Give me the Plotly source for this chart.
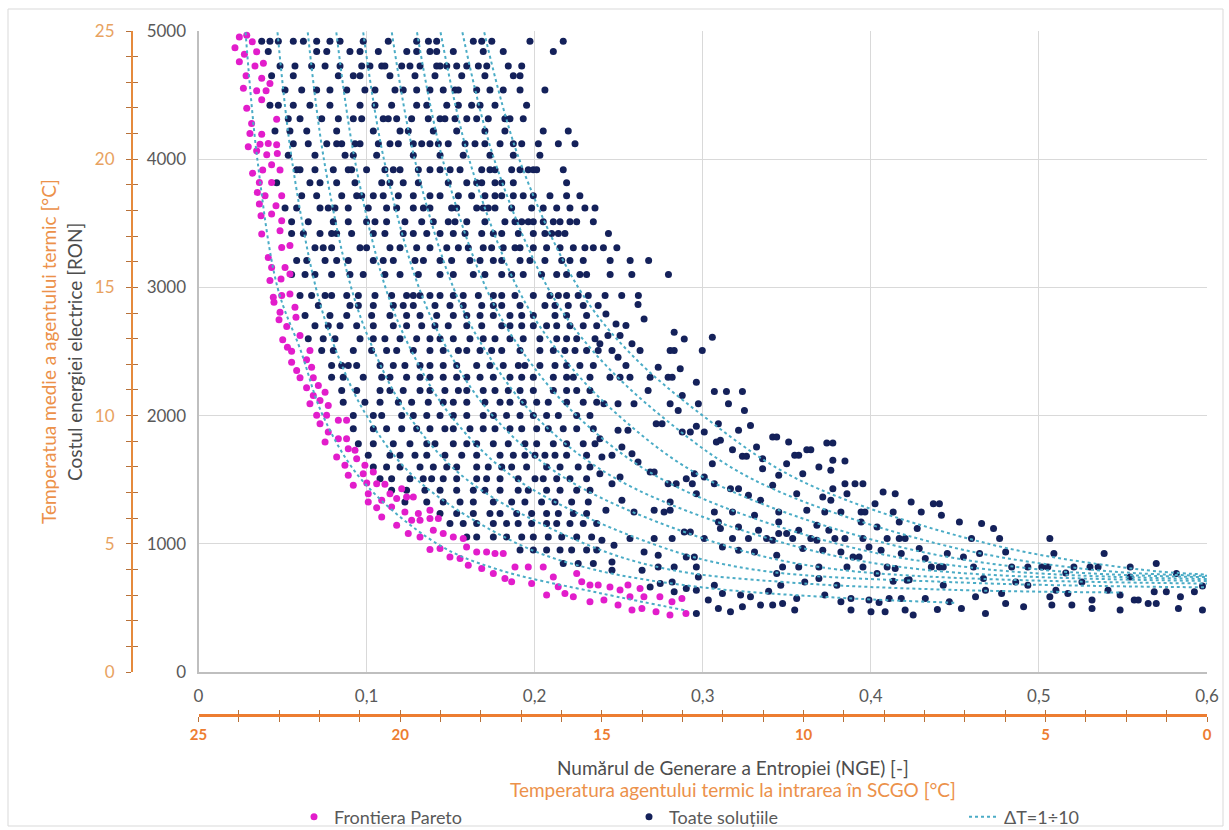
import plotly.graph_objects as go

# ---------------------------------------------------------------- data
# All solutions, read row by row (cost level [RON] -> NGE values)
ROW_COST = [4920, 4840, 4727, 4650, 4540, 4420, 4315, 4220, 4120, 4030,
            3917, 3816, 3715, 3620, 3512, 3420, 3310, 3210, 3100, 2936,
            2858, 2780, 2700, 2600, 2508, 2390, 2300, 2196, 2105, 2001,
            1898, 1781, 1690, 1599, 1508, 1417, 1326, 1236, 1158, 1054,
            951, 847]
ROW_NGE = [
    [0.0376, 0.0425, 0.0475, 0.0564, 0.0624, 0.0703, 0.0782, 0.0842, 0.0980, 0.1129, 0.1298, 0.1368, 0.1417, 0.1635, 0.1685, 0.1745, 0.1972, 0.2170],
    [0.0415, 0.0703, 0.0763, 0.0901, 0.0961, 0.1070, 0.1239, 0.1298, 0.1377, 0.1417, 0.1516, 0.1694, 0.1813, 0.2111],
    [0.0485, 0.0574, 0.0673, 0.0753, 0.0842, 0.0971, 0.1020, 0.1090, 0.1109, 0.1209, 0.1258, 0.1318, 0.1417, 0.1437, 0.1477, 0.1536, 0.1596, 0.1665, 0.1715, 0.1843, 0.1923],
    [0.0435, 0.0564, 0.0832, 0.0921, 0.0961, 0.1139, 0.1288, 0.1407, 0.1566, 0.1704, 0.1873, 0.1913],
    [0.0515, 0.0614, 0.0703, 0.0782, 0.0882, 0.0990, 0.1050, 0.1169, 0.1218, 0.1298, 0.1377, 0.1456, 0.1526, 0.1546, 0.1655, 0.1734, 0.1813, 0.1913, 0.2061],
    [0.0425, 0.0475, 0.0564, 0.0663, 0.0782, 0.0961, 0.1050, 0.1149, 0.1298, 0.1358, 0.1477, 0.1546, 0.1625, 0.1675, 0.1764, 0.1952],
    [0.0534, 0.0604, 0.0733, 0.0832, 0.0921, 0.0971, 0.1099, 0.1129, 0.1179, 0.1268, 0.1367, 0.1437, 0.1466, 0.1526, 0.1596, 0.1655, 0.1724, 0.1823, 0.1853, 0.1932],
    [0.0455, 0.0544, 0.0644, 0.0822, 0.1040, 0.1199, 0.1248, 0.1397, 0.1536, 0.1704, 0.1823, 0.2051, 0.2200],
    [0.0564, 0.0653, 0.0763, 0.0822, 0.0852, 0.0931, 0.0961, 0.1070, 0.1139, 0.1189, 0.1278, 0.1328, 0.1377, 0.1427, 0.1486, 0.1586, 0.1645, 0.1704, 0.1794, 0.1873, 0.1923, 0.2022, 0.2141, 0.2240],
    [0.0534, 0.0693, 0.0872, 0.0921, 0.1060, 0.1278, 0.1437, 0.1575, 0.1734, 0.1873, 0.2031],
    [0.0584, 0.0604, 0.0693, 0.0802, 0.0891, 0.0911, 0.1000, 0.1109, 0.1159, 0.1199, 0.1308, 0.1377, 0.1437, 0.1497, 0.1556, 0.1685, 0.1734, 0.1764, 0.1863, 0.1913, 0.1962, 0.1992, 0.2012, 0.2170],
    [0.0465, 0.0663, 0.0723, 0.0822, 0.0931, 0.1090, 0.1139, 0.1218, 0.1308, 0.1486, 0.1596, 0.1655, 0.1685, 0.1764, 0.1804, 0.1873, 0.2190],
    [0.0614, 0.0703, 0.0852, 0.0941, 0.0971, 0.1040, 0.1099, 0.1189, 0.1278, 0.1377, 0.1437, 0.1546, 0.1625, 0.1704, 0.1764, 0.1804, 0.1873, 0.1932, 0.1992, 0.2091, 0.2190, 0.2269],
    [0.0515, 0.0584, 0.0723, 0.0772, 0.0812, 0.0891, 0.1010, 0.1119, 0.1179, 0.1278, 0.1338, 0.1377, 0.1506, 0.1536, 0.1655, 0.1694, 0.1724, 0.1764, 0.1863, 0.1982, 0.2051, 0.2131, 0.2210, 0.2299, 0.2359],
    [0.0554, 0.0653, 0.0802, 0.0891, 0.1000, 0.1050, 0.1119, 0.1228, 0.1328, 0.1397, 0.1486, 0.1526, 0.1596, 0.1704, 0.1823, 0.1883, 0.1923, 0.1962, 0.1992, 0.2051, 0.2111, 0.2151, 0.2210, 0.2250, 0.2349],
    [0.0554, 0.0624, 0.0723, 0.0792, 0.0822, 0.0911, 0.1040, 0.1109, 0.1218, 0.1278, 0.1358, 0.1437, 0.1516, 0.1586, 0.1685, 0.1754, 0.1804, 0.1903, 0.1992, 0.2061, 0.2101, 0.2141, 0.2180, 0.2439],
    [0.0693, 0.0742, 0.0792, 0.0961, 0.1000, 0.1139, 0.1199, 0.1298, 0.1377, 0.1477, 0.1546, 0.1605, 0.1694, 0.1744, 0.1813, 0.1883, 0.1913, 0.1992, 0.2071, 0.2151, 0.2230, 0.2299, 0.2349, 0.2409, 0.2489],
    [0.0584, 0.0644, 0.0753, 0.0822, 0.0891, 0.1040, 0.1099, 0.1159, 0.1288, 0.1338, 0.1437, 0.1506, 0.1615, 0.1675, 0.1754, 0.1804, 0.1913, 0.1972, 0.2061, 0.2161, 0.2210, 0.2289, 0.2449, 0.2568, 0.2678],
    [0.0554, 0.0634, 0.0693, 0.0792, 0.0901, 0.0980, 0.1109, 0.1199, 0.1308, 0.1437, 0.1516, 0.1635, 0.1704, 0.1804, 0.1863, 0.1932, 0.2041, 0.2131, 0.2190, 0.2269, 0.2309, 0.2449, 0.2578, 0.2796],
    [0.0604, 0.0673, 0.0753, 0.0792, 0.0882, 0.0951, 0.1050, 0.1149, 0.1238, 0.1278, 0.1318, 0.1377, 0.1437, 0.1516, 0.1575, 0.1665, 0.1754, 0.1804, 0.1883, 0.1992, 0.2091, 0.2141, 0.2190, 0.2259, 0.2319, 0.2419, 0.2518, 0.2617],
    [0.0713, 0.0901, 0.0951, 0.1040, 0.1159, 0.1218, 0.1278, 0.1407, 0.1496, 0.1575, 0.1685, 0.1754, 0.1804, 0.1913, 0.2061, 0.2121, 0.2200, 0.2289, 0.2378],
    [0.0634, 0.0782, 0.0882, 0.1030, 0.1139, 0.1238, 0.1318, 0.1417, 0.1516, 0.1596, 0.1675, 0.1754, 0.1853, 0.1923, 0.1992, 0.2121, 0.2190, 0.2309],
    [0.0693, 0.0772, 0.0842, 0.0941, 0.1040, 0.1159, 0.1238, 0.1328, 0.1407, 0.1486, 0.1596, 0.1685, 0.1804, 0.1853, 0.1923, 0.1992, 0.2071, 0.2131, 0.2210, 0.2289, 0.2369],
    [0.0653, 0.0742, 0.0812, 0.0961, 0.1040, 0.1109, 0.1199, 0.1298, 0.1377, 0.1437, 0.1516, 0.1615, 0.1694, 0.1764, 0.1853, 0.1932, 0.2031, 0.2131, 0.2190, 0.2250, 0.2359],
    [0.0733, 0.0802, 0.0921, 0.1030, 0.1119, 0.1179, 0.1278, 0.1377, 0.1456, 0.1546, 0.1596, 0.1675, 0.1744, 0.1804, 0.1913, 0.2031, 0.2111, 0.2180, 0.2240, 0.2309, 0.2378],
    [0.0792, 0.0852, 0.0891, 0.0941, 0.1080, 0.1159, 0.1228, 0.1318, 0.1377, 0.1456, 0.1536, 0.1655, 0.1734, 0.1813, 0.1903, 0.1942, 0.2031, 0.2121, 0.2190, 0.2269, 0.2349],
    [0.0792, 0.0861, 0.0980, 0.1090, 0.1139, 0.1238, 0.1318, 0.1377, 0.1456, 0.1536, 0.1596, 0.1675, 0.1754, 0.1853, 0.1923, 0.1992, 0.2111, 0.2190, 0.2230, 0.2329],
    [0.0852, 0.0941, 0.1080, 0.1139, 0.1218, 0.1318, 0.1377, 0.1466, 0.1546, 0.1596, 0.1694, 0.1764, 0.1843, 0.1913, 0.1992, 0.2111, 0.2190, 0.2250, 0.2329],
    [0.0861, 0.0990, 0.1080, 0.1189, 0.1268, 0.1367, 0.1456, 0.1516, 0.1596, 0.1704, 0.1794, 0.1853, 0.1932, 0.2012, 0.2081, 0.2190, 0.2289, 0.2369],
    [0.0921, 0.1040, 0.1090, 0.1209, 0.1278, 0.1358, 0.1437, 0.1516, 0.1596, 0.1694, 0.1754, 0.1833, 0.1913, 0.1992, 0.2071, 0.2141, 0.2250, 0.2329],
    [0.0921, 0.1040, 0.1119, 0.1209, 0.1298, 0.1377, 0.1466, 0.1516, 0.1615, 0.1694, 0.1764, 0.1853, 0.1923, 0.2012, 0.2081, 0.2170, 0.2250, 0.2349],
    [0.0951, 0.1040, 0.1159, 0.1258, 0.1358, 0.1407, 0.1516, 0.1596, 0.1655, 0.1754, 0.1843, 0.1942, 0.2012, 0.2111, 0.2190, 0.2289, 0.2359],
    [0.1010, 0.1139, 0.1199, 0.1288, 0.1358, 0.1466, 0.1566, 0.1655, 0.1794, 0.1873, 0.1942, 0.2002, 0.2061, 0.2121, 0.2190, 0.2309],
    [0.1040, 0.1119, 0.1199, 0.1318, 0.1397, 0.1477, 0.1536, 0.1655, 0.1724, 0.1804, 0.1863, 0.1952, 0.2071, 0.2151, 0.2259, 0.2329],
    [0.1080, 0.1149, 0.1258, 0.1337, 0.1387, 0.1456, 0.1536, 0.1655, 0.1714, 0.1794, 0.1902, 0.2002, 0.2051, 0.2131, 0.2210, 0.2309],
    [0.1149, 0.1238, 0.1347, 0.1437, 0.1536, 0.1635, 0.1704, 0.1794, 0.1902, 0.1962, 0.2071, 0.2151, 0.2250, 0.2329],
    [0.1228, 0.1358, 0.1456, 0.1556, 0.1635, 0.1754, 0.1863, 0.1942, 0.2041, 0.2121, 0.2220, 0.2319],
    [0.1437, 0.1536, 0.1635, 0.1734, 0.1794, 0.1893, 0.1982, 0.2071, 0.2141, 0.2230, 0.2309],
    [0.1496, 0.1575, 0.1655, 0.1754, 0.1833, 0.1902, 0.1982, 0.2071, 0.2131, 0.2210, 0.2289, 0.2369],
    [0.1596, 0.1655, 0.1754, 0.1833, 0.1923, 0.1992, 0.2081, 0.2161, 0.2250, 0.2339],
    [0.1913, 0.1992, 0.2071, 0.2151, 0.2220, 0.2309, 0.2369],
    [0.2170, 0.2259, 0.2349],
]

# All solutions, lower-right region (NGE > 0.24, cost < 2900 RON)
LOW_NGE = [
    0.2424, 0.2484, 0.2543, 0.2615, 0.2651, 0.2830, 0.2890, 0.2436, 0.2508, 0.2388,
    0.2579, 0.2627, 0.2806, 0.2830, 0.2735, 0.2866, 0.2997, 0.3057, 0.2460, 0.2496,
    0.2543, 0.2448, 0.2508, 0.2567, 0.2687, 0.2794, 0.2818, 0.2962, 0.2675, 0.2878,
    0.3069, 0.3141, 0.3236, 0.3153, 0.3248, 0.2496, 0.2412, 0.2591, 0.2854, 0.2806,
    0.2974, 0.2723, 0.2758, 0.2388, 0.2496, 0.2555, 0.2878, 0.2926, 0.2962, 0.3009,
    0.3093, 0.3213, 0.3284, 0.3416, 0.3440, 0.3511, 0.3619, 0.3643, 0.3738, 0.3774,
    0.3547, 0.3571, 0.3846, 0.3774, 0.3691, 0.3762, 0.3595, 0.3452, 0.3499, 0.3356,
    0.3320, 0.3236, 0.3260, 0.3177, 0.3105, 0.3081, 0.3057, 0.3009, 0.2950, 0.2902,
    0.2842, 0.2794, 0.2687, 0.2711, 0.2615, 0.2519, 0.2579, 0.2460, 0.2400, 0.2388,
    0.2508, 0.2460, 0.2519, 0.2424, 0.2591, 0.2711, 0.2770, 0.2806, 0.2806, 0.2938,
    0.2962, 0.3069, 0.3177, 0.3069, 0.3165, 0.3213, 0.3272, 0.3356, 0.3416, 0.3452,
    0.3344, 0.3308, 0.3452, 0.3499, 0.3559, 0.3619, 0.3679, 0.3714, 0.3726, 0.3774,
    0.3762, 0.3822, 0.3846, 0.3858, 0.3906, 0.3953, 0.3942, 0.3965, 0.4025, 0.4073,
    0.4145, 0.4133, 0.4037, 0.4097, 0.4169, 0.4204, 0.4240, 0.4300, 0.4372, 0.4408,
    0.4420, 0.4276, 0.4169, 0.3942, 0.3953, 0.3846, 0.3786, 0.3750, 0.3679, 0.3643,
    0.3571, 0.3535, 0.3452, 0.3416, 0.3380, 0.3332, 0.3272, 0.3213, 0.3177, 0.3105,
    0.3093, 0.3009, 0.2926, 0.2890, 0.2818, 0.2711, 0.2567, 0.2472, 0.2400, 0.2460,
    0.2460, 0.2651, 0.2735, 0.2735, 0.2830, 0.2902, 0.2950, 0.2962, 0.2974, 0.3117,
    0.3213, 0.3308, 0.3440, 0.3475, 0.3571, 0.3595, 0.3691, 0.3714, 0.3822, 0.3858,
    0.3894, 0.3930, 0.3953, 0.3989, 0.4037, 0.4061, 0.4097, 0.4145, 0.4181, 0.4216,
    0.4288, 0.4324, 0.4360, 0.4408, 0.4431, 0.4455, 0.4527, 0.4551, 0.4599, 0.4611,
    0.4659, 0.4647, 0.4670, 0.4730, 0.4766, 0.4802, 0.4838, 0.4934, 0.5017, 0.5053,
    0.5065, 0.5089, 0.5160, 0.5208, 0.5256, 0.5304, 0.5352, 0.5388, 0.5543, 0.5543,
    0.5698, 0.5818, 0.5925, 0.5973, 0.5686, 0.5758, 0.5842, 0.5830, 0.5973, 0.5698,
    0.5650, 0.5567, 0.5591, 0.5483, 0.5483, 0.5411, 0.5316, 0.5316, 0.5196, 0.5172,
    0.5077, 0.5065, 0.5101, 0.4934, 0.4909, 0.4862, 0.4778, 0.4802, 0.4682, 0.4682,
    0.4623, 0.4539, 0.4467, 0.4431, 0.4396, 0.4324, 0.4252, 0.4204, 0.4181, 0.4228,
    0.4133, 0.4109, 0.4085, 0.4049, 0.3989, 0.4001, 0.3882, 0.3882, 0.3822, 0.3798,
    0.3726, 0.3691, 0.3607, 0.3559, 0.3547, 0.3475, 0.3464, 0.3440, 0.3392, 0.3416,
    0.3344, 0.3284, 0.3225, 0.3236, 0.3165, 0.3117, 0.3093, 0.3033, 0.3069, 0.2962,
    0.2962, 0.2902, 0.2830, 0.2818, 0.2747, 0.2687, 0.2639,
]
LOW_COST = [
    2793, 2715, 2702, 2866, 2754, 2650, 2598, 2624, 2624, 2560,
    2560, 2508, 2508, 2508, 2378, 2365, 2508, 2611, 2508, 2456,
    2391, 2300, 2300, 2300, 2300, 2300, 2300, 2261, 2196, 2157,
    2188, 2188, 2188, 2092, 2040, 2092, 2092, 2092, 2040, 2092,
    2092, 1936, 1936, 1820, 1885, 1885, 1872, 1872, 1916, 1872,
    1936, 1885, 1923, 1833, 1833, 1794, 1734, 1734, 1786, 1786,
    1690, 1690, 1646, 1651, 1599, 1573, 1547, 1534, 1625, 1664,
    1755, 1682, 1682, 1734, 1807, 1794, 1625, 1521, 1547, 1508,
    1469, 1469, 1560, 1560, 1638, 1755, 1703, 1690, 1677, 1547,
    1521, 1469, 1339, 1261, 1249, 1261, 1249, 1261, 1326, 1469,
    1391, 1249, 1249, 1469, 1430, 1430, 1378, 1586, 1456, 1249,
    1339, 1223, 1171, 1080, 1391, 1261, 1145, 1365, 1249, 1430,
    1339, 1249, 1469, 1391, 1469, 1469, 1249, 1249, 1313, 1404,
    1391, 1249, 1132, 1041, 1041, 1041, 1326, 1249, 1313, 1313,
    1223, 1119, 1171, 1171, 1041, 1041, 1041, 1106, 1028, 1041,
    1106, 1041, 1080, 1028, 1041, 1106, 1041, 1132, 1041, 1119,
    1171, 1041, 1093, 1093, 1041, 1041, 1041, 989, 1028, 859,
    794, 937, 911, 820, 820, 898, 898, 820, 742, 976,
    950, 937, 911, 820, 820, 963, 820, 950, 937, 820,
    898, 898, 820, 976, 768, 950, 820, 807, 924, 716,
    963, 885, 820, 820, 820, 924, 1171, 898, 1041, 820,
    1158, 924, 729, 1119, 1041, 937, 820, 820, 820, 820,
    1041, 924, 772, 820, 703, 820, 820, 924, 820, 742,
    846, 768, 626, 670, 626, 626, 587, 496, 483, 535,
    535, 561, 561, 483, 600, 638, 561, 496, 522, 613,
    522, 587, 638, 677, 509, 703, 613, 535, 457, 638,
    587, 496, 548, 677, 488, 574, 444, 483, 574, 720,
    707, 574, 470, 543, 561, 470, 574, 483, 548, 677,
    600, 729, 703, 574, 483, 535, 677, 768, 629, 522,
    522, 587, 600, 509, 470, 613, 496, 561, 677, 457,
    638, 651, 626, 703, 690, 664, 794,
]

# Pareto frontier
PARETO_NGE = [
    0.0243, 0.0287, 0.0320, 0.0217, 0.0273, 0.0346, 0.0243, 0.0336, 0.0386, 0.0283,
    0.0376, 0.0425, 0.0267, 0.0346, 0.0402, 0.0376, 0.0287, 0.0316, 0.0376, 0.0465,
    0.0306, 0.0296, 0.0366, 0.0415, 0.0465, 0.0346, 0.0406, 0.0469, 0.0435, 0.0382,
    0.0322, 0.0485, 0.0362, 0.0435, 0.0350, 0.0396, 0.0495, 0.0362, 0.0461, 0.0372,
    0.0435, 0.0495, 0.0485, 0.0376, 0.0415, 0.0495, 0.0544, 0.0435, 0.0515, 0.0425,
    0.0491, 0.0544, 0.0445, 0.0495, 0.0544,
    0.0449, 0.0485, 0.0479, 0.0574, 0.0580, 0.0525, 0.0604, 0.0501, 0.0529, 0.0554,
    0.0663, 0.0643, 0.0554, 0.0584, 0.0673, 0.0604, 0.0683, 0.0643, 0.0713, 0.0683,
    0.0753, 0.0663, 0.0723, 0.0772, 0.0703, 0.0762, 0.0832, 0.0881, 0.0723, 0.0772,
    0.0753, 0.0832, 0.0881, 0.0822, 0.0891, 0.0931, 0.0871, 0.0941, 0.0990, 0.0891,
    0.0980, 0.1040, 0.0921, 0.1001, 0.1060, 0.1109, 0.1010, 0.1139, 0.1209, 0.1010,
    0.1090, 0.1179, 0.1238, 0.1278, 0.1060, 0.1149, 0.1228, 0.1308, 0.1377, 0.1090,
    0.1179, 0.1268, 0.1318, 0.1377, 0.1427, 0.1248, 0.1318, 0.1397, 0.1456, 0.1516,
    0.1575, 0.1377, 0.1437, 0.1496, 0.1556, 0.1595, 0.1655, 0.1714, 0.1764, 0.1813,
    0.1605, 0.1685, 0.1754, 0.1823, 0.1863, 0.1883, 0.1962, 0.1982, 0.2051, 0.2111,
    0.2071, 0.2140, 0.2180, 0.2230, 0.2250, 0.2280, 0.2329, 0.2329, 0.2378,
    0.2412, 0.2448, 0.2496, 0.2508, 0.2555, 0.2567, 0.2579, 0.2627, 0.2638, 0.2650,
    0.2722, 0.2745, 0.2805, 0.2817, 0.2876, 0.2900,
]
PARETO_COST = [
    4953, 4966, 4917, 4870, 4818, 4839, 4761, 4727, 4748, 4650,
    4632, 4590, 4553, 4533, 4533, 4463, 4398, 4278, 4195, 4312,
    4200, 4097, 4117, 4122, 4112, 4065, 4034, 4044, 3956, 3915,
    3891, 3915, 3819, 3819, 3741, 3715, 3715, 3650, 3637, 3559,
    3572, 3520, 3442, 3417, 3234, 3312, 3326, 3156, 3156, 3053,
    3066, 3105, 2923, 2936, 2949,
    2884, 2806, 2747, 2845, 2767, 2695, 2625, 2591, 2534, 2502,
    2508, 2435, 2417, 2352, 2378, 2295, 2295, 2217, 2235, 2157,
    2183, 2093, 2118, 2079, 2002, 2002, 1963, 1963, 1937, 1872,
    1794, 1820, 1820, 1677, 1742, 1729, 1612, 1664, 1612, 1534,
    1547, 1560, 1456, 1474, 1469, 1464, 1391, 1391, 1430, 1327,
    1340, 1353, 1366, 1366, 1282, 1288, 1249, 1236, 1262, 1210,
    1145, 1184, 1184, 1197, 1197, 1080, 1054, 1106, 1080, 1054,
    1041, 955, 963, 898, 885, 976, 937, 937, 924, 924,
    833, 807, 768, 729, 704, 820, 820, 690, 820, 742,
    600, 665, 613, 587, 768, 704, 678, 548, 678,
    561, 664, 522, 639, 678, 586, 483, 652, 496, 586,
    470, 586, 444, 548, 574, 457,
]

# Constant-ΔT curves (ΔT = 1 ... 10)
DT_NGE = [
    [0.028, 0.035, 0.047, 0.061, 0.074, 0.097, 0.142, 0.178, 0.239, 0.290],
    [0.047, 0.0555, 0.0698, 0.082, 0.100, 0.130, 0.190, 0.235, 0.300, 0.380, 0.450],
    [0.065, 0.0746, 0.0908, 0.1046, 0.125, 0.1597, 0.230, 0.280, 0.350, 0.450, 0.550],
    [0.082, 0.0929, 0.1112, 0.1269, 0.150, 0.1896, 0.270, 0.330, 0.450, 0.600],
    [0.098, 0.1103, 0.1311, 0.1488, 0.175, 0.2196, 0.310, 0.380, 0.600],
    [0.115, 0.1286, 0.1516, 0.1711, 0.200, 0.2495, 0.350, 0.430, 0.600],
    [0.130, 0.1452, 0.1709, 0.1927, 0.225, 0.2762, 0.380, 0.470, 0.600],
    [0.144, 0.1610, 0.1896, 0.2140, 0.250, 0.3030, 0.410, 0.500, 0.600],
    [0.157, 0.1759, 0.2077, 0.2349, 0.275, 0.3302, 0.440, 0.530, 0.600],
    [0.170, 0.1908, 0.2259, 0.2558, 0.300, 0.3571, 0.470, 0.560, 0.600],
]
DT_COST = [
    [4990, 4000, 3000, 2500, 2000, 1500, 1000, 800, 615, 480],
    [4990, 4000, 3000, 2500, 2000, 1500, 1000, 800, 660, 580, 540],
    [4990, 4000, 3000, 2500, 2000, 1500, 1000, 800, 700, 640, 620],
    [4990, 4000, 3000, 2500, 2000, 1500, 1000, 800, 700, 660],
    [4990, 4000, 3000, 2500, 2000, 1500, 1000, 800, 690],
    [4990, 4000, 3000, 2500, 2000, 1500, 1000, 800, 710],
    [4990, 4000, 3000, 2500, 2000, 1500, 1000, 800, 725],
    [4990, 4000, 3000, 2500, 2000, 1500, 1000, 800, 740],
    [4990, 4000, 3000, 2500, 2000, 1500, 1000, 800, 750],
    [4990, 4000, 3000, 2500, 2000, 1500, 1000, 800, 760],
]

# Secondary (temperature) axes
TEMP_OUT_TICKVALS = [25, 20, 15, 10, 4, 0]
TEMP_OUT_TICKTEXT = ["25", "20", "15", "10", "5", "0"]

# ---------------------------------------------------------------- styles
FONT = "Lato, 'Open Sans', 'DejaVu Sans', sans-serif"
GREY_TXT = "#595959"
TITLE_GREY = "#4D4D4D"
NAVY = "#14215A"
MAGENTA = "#E21DCB"
AQUA = "#4BACC6"
ORANGE = "#ED7D31"
ORANGE_TITLE = "#EC914A"
ORANGE_LIGHT = "#E8A25F"
TICK_BROWN = "#B7713A"

W, H = 1229, 830
ML, MR, MT, MB = 100, 22, 31, 10
PW, PH = W - ML - MR, H - MT - MB


def px_x(p):
    return (p - ML) / PW


def px_y(p):
    return (H - MB - p) / PH


all_nge, all_cost = [], []
for c, row in zip(ROW_COST, ROW_NGE):
    all_nge.extend(row)
    all_cost.extend([c] * len(row))
all_nge.extend(LOW_NGE)
all_cost.extend(LOW_COST)

fig = go.Figure()

fig.add_trace(go.Scatter(
    x=all_nge, y=all_cost, mode="markers", name="Toate soluțiile",
    marker=dict(color=NAVY, size=7, line=dict(width=0)), legendrank=2,
))
fig.add_trace(go.Scatter(
    x=PARETO_NGE, y=PARETO_COST, mode="markers", name="Frontiera Pareto",
    marker=dict(color=MAGENTA, size=7, line=dict(width=0)), legendrank=1,
))
for i, (xs, ys) in enumerate(zip(DT_NGE, DT_COST)):
    fig.add_trace(go.Scatter(
        x=xs, y=ys, mode="lines", name="ΔT=1÷10", legendgroup="dt",
        showlegend=(i == 0), legendrank=3,
        line=dict(color=AQUA, width=2, dash="dot", shape="spline", smoothing=1.0),
    ))

# empty traces so that the temperature axes are laid out
for xa, ya in (("x2", "y"), ("x3", "y"), ("x", "y2"), ("x", "y3")):
    fig.add_trace(go.Scatter(x=[], y=[], xaxis=xa, yaxis=ya, showlegend=False,
                             hoverinfo="skip"))

plot_x0 = px_x(198.5)
plot_y0 = px_y(672)

orange_minor = dict(dtick=1, tick0=0, ticklen=5, tickwidth=1, tickcolor=TICK_BROWN,
                    showgrid=False)

fig.update_layout(
    width=W, height=H,
    margin=dict(l=ML, r=MR, t=MT, b=MB, autoexpand=False),
    paper_bgcolor="white", plot_bgcolor="white",
    separators=", ",
    font=dict(family=FONT, size=17, color=GREY_TXT),
    xaxis=dict(
        domain=[plot_x0, 1], range=[0, 0.6], dtick=0.1, tick0=0,
        showgrid=True, gridcolor="#D9D9D9", gridwidth=1, zeroline=False,
        showline=True, linecolor="#BFBFBF", linewidth=2,
        ticks="", ticklabelstandoff=8,
        tickfont=dict(family=FONT, size=17, color=GREY_TXT),
    ),
    yaxis=dict(
        domain=[plot_y0, 1], range=[0, 5000], dtick=1000, tick0=0,
        showgrid=True, gridcolor="#D9D9D9", gridwidth=1, zeroline=False,
        showline=True, linecolor="#BFBFBF", linewidth=2,
        ticks="", ticklabelstandoff=7,
        tickfont=dict(family=FONT, size=17, color=GREY_TXT),
    ),
    xaxis2=dict(
        overlaying="x", anchor="free", position=px_y(715), side="bottom",
        range=[25, 0], tickmode="array", tickvals=TEMP_OUT_TICKVALS,
        ticktext=TEMP_OUT_TICKTEXT, showgrid=False, zeroline=False,
        showline=True, linecolor=ORANGE, linewidth=2.5,
        ticks="outside", ticklen=5, tickwidth=1, tickcolor=TICK_BROWN,
        minor=dict(ticks="outside", **orange_minor),
        tickfont=dict(family=FONT, size=15, color=ORANGE, weight="bold"),
    ),
    xaxis3=dict(
        overlaying="x", anchor="free", position=px_y(715), side="bottom",
        range=[25, 0], tickmode="array", tickvals=TEMP_OUT_TICKVALS,
        showticklabels=False, showgrid=False, zeroline=False, showline=False,
        ticks="inside", ticklen=5, tickwidth=1, tickcolor=TICK_BROWN,
        minor=dict(ticks="inside", **orange_minor),
    ),
    yaxis2=dict(
        overlaying="y", anchor="free", position=px_x(132), side="left",
        range=[0, 25], dtick=5, tick0=0, showgrid=False, zeroline=False,
        showline=True, linecolor="#E58A3C", linewidth=2,
        ticks="outside", ticklen=5, tickwidth=1, tickcolor=TICK_BROWN,
        minor=dict(ticks="outside", **orange_minor),
        ticklabelstandoff=8,
        tickfont=dict(family=FONT, size=17, color=ORANGE_LIGHT),
    ),
    yaxis3=dict(
        overlaying="y", anchor="free", position=px_x(132), side="left",
        range=[0, 25], dtick=5, tick0=0, showgrid=False, zeroline=False,
        showline=False, showticklabels=False,
        ticks="inside", ticklen=5, tickwidth=1, tickcolor=TICK_BROWN,
        minor=dict(ticks="inside", **orange_minor),
    ),
    legend=dict(
        orientation="h", x=px_x(294), y=px_y(817), xanchor="left", yanchor="middle",
        entrywidth=290, entrywidthmode="pixels", bgcolor="rgba(0,0,0,0)",
        font=dict(family=FONT, size=18, color=GREY_TXT), itemsizing="trace",
    ),
    showlegend=True,
)

ann = [
    dict(text="Numărul de Generare a Entropiei (NGE) [-]", x=px_x(733), y=px_y(767),
         font=dict(family=FONT, size=19, color=TITLE_GREY)),
    dict(text="Temperatura agentului termic la intrarea în SCGO [°C]", x=px_x(733),
         y=px_y(789), font=dict(family=FONT, size=19, color=ORANGE_TITLE)),
    dict(text="Temperatua medie a agentului termic [°C]", x=px_x(48), y=px_y(352),
         textangle=-90, font=dict(family=FONT, size=19, color=ORANGE_TITLE)),
    dict(text="Costul energiei electrice [RON]", x=px_x(74), y=px_y(352),
         textangle=-90, font=dict(family=FONT, size=19, color=TITLE_GREY)),
]
for a in ann:
    fig.add_annotation(xref="paper", yref="paper", showarrow=False,
                       xanchor="center", yanchor="middle", **a)

# outer chart frame
fig.add_shape(type="rect", xref="paper", yref="paper",
              x0=px_x(8), x1=px_x(1223), y0=px_y(826), y1=px_y(9),
              line=dict(color="#D9D9D9", width=1), fillcolor="rgba(0,0,0,0)",
              layer="below")

fig.write_html("out.html")
